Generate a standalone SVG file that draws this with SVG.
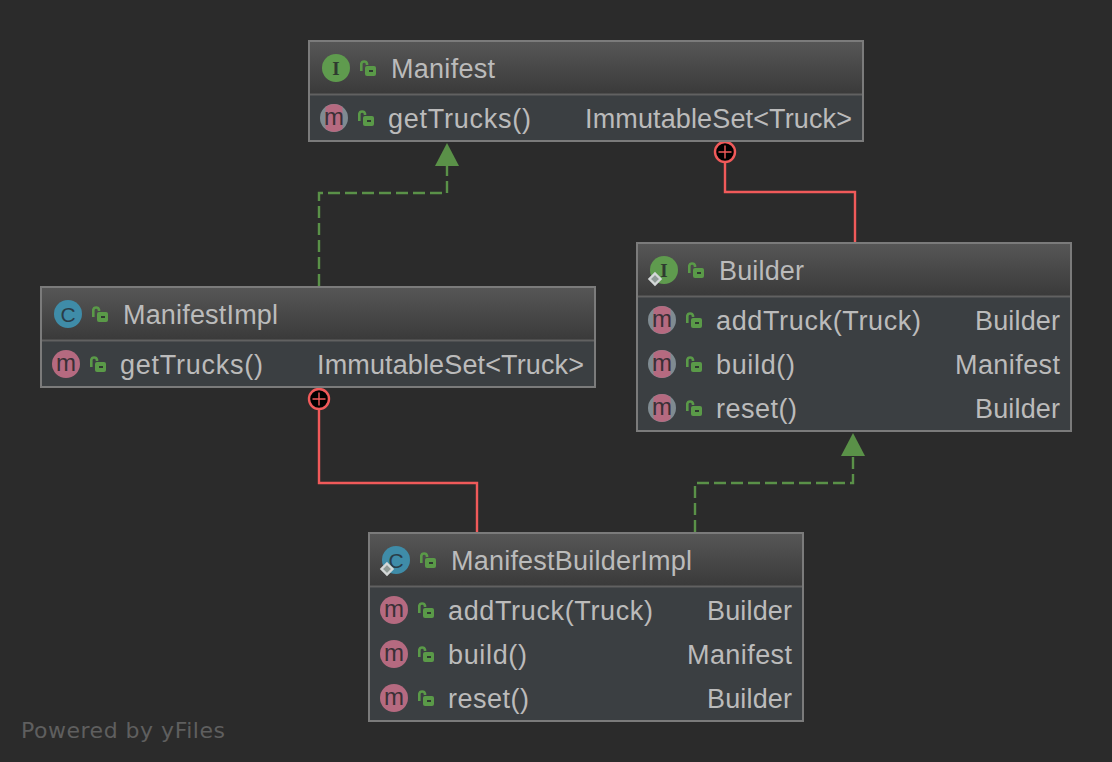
<svg xmlns="http://www.w3.org/2000/svg" xmlns:xlink="http://www.w3.org/1999/xlink" width="1112" height="762" viewBox="0 0 1112 762">
<style>
text{font-family:"Liberation Sans",Arial,sans-serif;font-size:27px;fill:#bbbbbb}
.bg{fill:#2b2b2b}
.box{fill:#3b3f42;stroke:#7b7b7b;stroke-width:2}
.head{fill:url(#hg)}
.div{stroke:#616161;stroke-width:2}
.end{text-anchor:end}
.glyph{font-size:19px;fill:#3a3036;text-anchor:middle}
.dash{fill:none;stroke:#5a9148;stroke-width:2.4;stroke-dasharray:12 5}
.red{fill:none;stroke:#f15a5a;stroke-width:2.4}
.tip{fill:#5a9148}
.plus{fill:#000;stroke:#f15a5a;stroke-width:2.4}
.plusx{fill:none;stroke:#f15a5a;stroke-width:1.4}
.wm{fill:#5f5f5f;font-size:22px;font-family:"DejaVu Sans","Liberation Sans",sans-serif}
</style>
<defs>
<linearGradient id="hg" x1="0" y1="0" x2="0" y2="1"><stop offset="0" stop-color="#565656"/><stop offset="1" stop-color="#3a3a3a"/></linearGradient>
<g id="lock"><path d="M-5.700 3V-4.200A2.900 2.900 0 0 1 0-4.200V-3" fill="none" stroke="#5a9a48" stroke-width="2.600"/><rect x="-2" y="-2" width="11" height="10" rx="2" fill="#5a9a48"/><rect x="2" y="2" width="4" height="2" fill="#2f3a30"/></g>
<g id="mpub"><circle r="14" fill="#b56a80"/><text class="glyph" y="6.500" style="font-size:24px">m</text></g>
<g id="mabs"><circle r="14" fill="#7f8b91"/><path d="M-8.500-11.100A14 14 0 0 1 8.500-11.100V11.100A14 14 0 0 1-8.500 11.100Z" fill="#b56a80"/><text class="glyph" y="6.500" style="font-size:24px">m</text></g>
<g id="ci"><circle r="14" fill="#5f9b4e"/><text class="glyph" y="7" style="font-family:'Liberation Serif',serif;font-size:19px;font-weight:bold;fill:#2f3a30">I</text></g>
<g id="cc"><circle r="14" fill="#3f8ca8"/><text class="glyph" y="7.500" style="font-size:21px;fill:#2a3d48">C</text></g>
<path id="dia" d="M0-5.500L5.500 0L0 5.500L-5.500 0Z" fill="#8f9a96" stroke="#d4d8d8" stroke-width="2.400"/>
</defs>
<rect class="bg" width="1112" height="762"/>

<g id="connectors">
<path class="dash" d="M319 286V193H447V165"/>
<polygon class="tip" points="447,143 459,166 435,166"/>
<path class="dash" d="M695 532V483H853V455"/>
<polygon class="tip" points="853,433 865,456 841,456"/>
<path class="red" d="M725 162V192H855V242"/>
<circle class="plus" cx="725" cy="152" r="10"/>
<path class="plusx" d="M718.500 152H731.500M725 145.500V158.500"/>
<path class="red" d="M319 409V483H477V532"/>
<circle class="plus" cx="319" cy="399" r="10"/>
<path class="plusx" d="M312.500 399H325.500M319 392.500V405.500"/>
</g>

<g id="node-manifest">
<rect class="box" x="309" y="41" width="554" height="100"/>
<rect class="head" x="310" y="42" width="552" height="52"/>
<line class="div" x1="310" y1="94.500" x2="862" y2="94.500"/>
<use xlink:href="#ci" x="336" y="68"/><use xlink:href="#lock" x="367" y="68"/>
<text x="391" y="78" textLength="104">Manifest</text>
<use xlink:href="#mabs" x="334" y="118"/><use xlink:href="#lock" x="365" y="118"/>
<text x="388" y="128" textLength="143">getTrucks()</text>
<text class="end" x="852" y="128" textLength="267">ImmutableSet&lt;Truck&gt;</text>
</g>

<g id="node-builder">
<rect class="box" x="637" y="243" width="434" height="188"/>
<rect class="head" x="638" y="244" width="432" height="52"/>
<line class="div" x1="638" y1="296.500" x2="1070" y2="296.500"/>
<use xlink:href="#ci" x="664" y="270"/><use xlink:href="#dia" x="655" y="279"/><use xlink:href="#lock" x="695" y="270"/>
<text x="719" y="280" textLength="85">Builder</text>
<use xlink:href="#mabs" x="662" y="320"/><use xlink:href="#lock" x="693" y="320"/>
<text x="716" y="330" textLength="205">addTruck(Truck)</text><text class="end" x="1060" y="330" textLength="85">Builder</text>
<use xlink:href="#mabs" x="662" y="364"/><use xlink:href="#lock" x="693" y="364"/>
<text x="716" y="374" textLength="79">build()</text><text class="end" x="1060" y="374" textLength="105">Manifest</text>
<use xlink:href="#mabs" x="662" y="408"/><use xlink:href="#lock" x="693" y="408"/>
<text x="716" y="418" textLength="81">reset()</text><text class="end" x="1060" y="418" textLength="85">Builder</text>
</g>

<g id="node-manifestimpl">
<rect class="box" x="41" y="287" width="554" height="100"/>
<rect class="head" x="42" y="288" width="552" height="52"/>
<line class="div" x1="42" y1="340.500" x2="594" y2="340.500"/>
<use xlink:href="#cc" x="68" y="314"/><use xlink:href="#lock" x="99" y="314"/>
<text x="123" y="324" textLength="155">ManifestImpl</text>
<use xlink:href="#mpub" x="66" y="364"/><use xlink:href="#lock" x="97" y="364"/>
<text x="120" y="374" textLength="143">getTrucks()</text>
<text class="end" x="584" y="374" textLength="267">ImmutableSet&lt;Truck&gt;</text>
</g>

<g id="node-manifestbuilderimpl">
<rect class="box" x="369" y="533" width="434" height="188"/>
<rect class="head" x="370" y="534" width="432" height="52"/>
<line class="div" x1="370" y1="586.500" x2="802" y2="586.500"/>
<use xlink:href="#cc" x="396" y="560"/><use xlink:href="#dia" x="387" y="569"/><use xlink:href="#lock" x="427" y="560"/>
<text x="451" y="570" textLength="241">ManifestBuilderImpl</text>
<use xlink:href="#mpub" x="394" y="610"/><use xlink:href="#lock" x="425" y="610"/>
<text x="448" y="620" textLength="205">addTruck(Truck)</text><text class="end" x="792" y="620" textLength="85">Builder</text>
<use xlink:href="#mpub" x="394" y="654"/><use xlink:href="#lock" x="425" y="654"/>
<text x="448" y="664" textLength="79">build()</text><text class="end" x="792" y="664" textLength="105">Manifest</text>
<use xlink:href="#mpub" x="394" y="698"/><use xlink:href="#lock" x="425" y="698"/>
<text x="448" y="708" textLength="81">reset()</text><text class="end" x="792" y="708" textLength="85">Builder</text>
</g>

<text class="wm" x="21" y="738" textLength="204">Powered by yFiles</text>
</svg>
